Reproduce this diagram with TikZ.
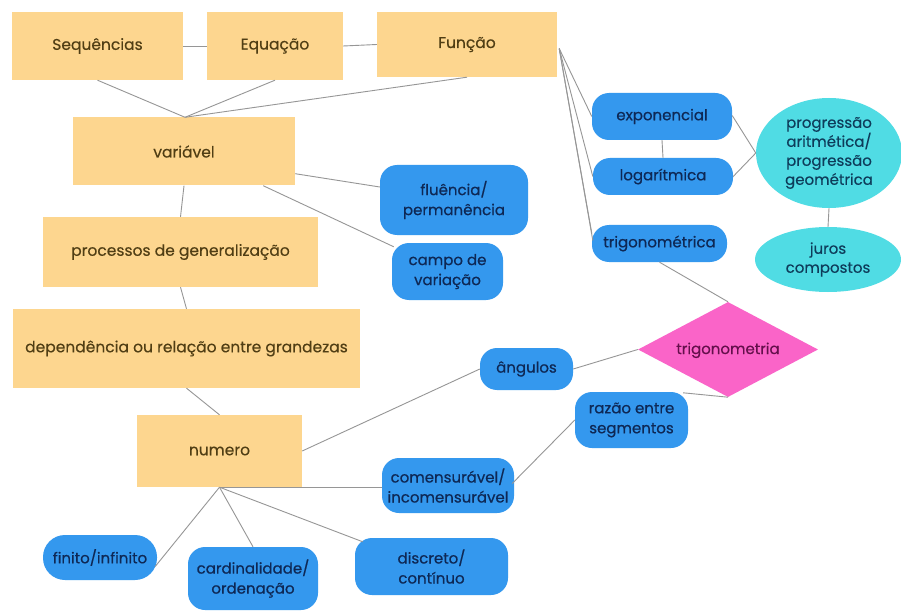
\documentclass[tikz,border=0pt]{standalone}
\usepackage{fontspec}
\setmainfont{Poppins}
\newfontfamily\medfont{Poppins}[FakeBold=0.6]
\newfontfamily\semfont{Poppins}[FakeBold=0.3]
\usetikzlibrary{shapes.geometric,calc}
\definecolor{orng}{RGB}{253,214,143}
\definecolor{brn}{RGB}{80,62,20}
\definecolor{blu}{RGB}{52,152,238}
\definecolor{navy}{RGB}{14,40,85}
\definecolor{cyn}{RGB}{80,220,228}
\definecolor{teal}{RGB}{14,60,90}
\definecolor{pnk}{RGB}{250,100,200}
\definecolor{purp}{RGB}{100,15,75}
\definecolor{lin}{RGB}{150,150,150}
\tikzset{
  ob/.style={fill=orng, draw=none, inner sep=0pt, text=brn, font=\semfont\fontsize{15.5}{18}\selectfont, align=center},
  bb/.style={fill=blu, draw=none, rounded corners=17pt, inner sep=0pt, text=navy, font=\medfont\fontsize{15}{20}\selectfont, align=center},
  cb/.style={ellipse, fill=cyn, draw=none, inner sep=0pt, text=teal, font=\semfont\fontsize{15}{19}\selectfont, align=center},
  db/.style={diamond, fill=pnk, draw=none, inner sep=0pt, text=purp, font=\semfont\fontsize{15}{18}\selectfont},
  ln/.style={draw=lin, line width=0.9pt}
}
\begin{document}
\begin{tikzpicture}[x=1pt,y=-1pt]
\fill[white] (0,0) rectangle (901,612);
\useasboundingbox (0,0) rectangle (901,612);
\clip (0,0) rectangle (901,612);
% orange boxes
\node[ob, minimum width=171pt, minimum height=68pt] (seq) at (97.5,46) {Sequências};
\node[ob, minimum width=136pt, minimum height=68pt] (equ) at (275,46) {Equação};
\node[ob, minimum width=180pt, minimum height=65pt] (fun) at (467,44.5) {Função};
\node[ob, minimum width=222pt, minimum height=68pt] (var) at (184,151.5) {variável};
\node[ob, minimum width=275pt, minimum height=70pt] (pro) at (180.5,252) {processos de generalização};
\node[ob, minimum width=347pt, minimum height=79pt] (dep) at (186.5,348.5) {dependência ou relação entre grandezas};
\node[ob, minimum width=165pt, minimum height=72pt] (num) at (219.5,451) {numero};
% blue boxes
\node[bb, minimum width=148pt, minimum height=70pt] (flu) at (454,200) {fluência/\\permanência};
\node[bb, minimum width=111pt, minimum height=57pt] (cam) at (447.5,271.5) {campo de\\variação};
\node[bb, minimum width=140pt, minimum height=47pt] (exp) at (662,116.5) {exponencial};
\node[bb, minimum width=140pt, minimum height=37pt] (log) at (663,176.5) {logarítmica};
\node[bb, minimum width=135pt, minimum height=37pt] (tri) at (659.5,243.5) {trigonométrica};
\node[bb, minimum width=93pt, minimum height=42pt] (ang) at (526.5,369) {ângulos};
\node[bb, minimum width=113pt, minimum height=56pt] (raz) at (631.5,420) {razão entre\\segmentos};
\node[bb, minimum width=132pt, minimum height=55pt] (com) at (448,485.5) {comensurável/\\incomensurável};
\node[bb, minimum width=114pt, minimum height=45pt, rounded corners=22pt] (fin) at (100,557.5) {finito/infinito};
\node[bb, minimum width=130pt, minimum height=63pt] (car) at (253,578.5) {cardinalidade/\\ordenação};
\node[bb, minimum width=153pt, minimum height=57pt] (dis) at (431.5,566.5) {discreto/\\contínuo};
% cyan ellipses
\node[cb, minimum width=146pt, minimum height=110pt] (prg) at (829,153) {progressão\\aritmética/\\progressão\\geométrica};
\node[cb, minimum width=146pt, minimum height=65pt] (jur) at (828,259.5) {juros\\compostos};
% diamond
\node[db, minimum width=180pt, minimum height=95pt] (dia) at (728,349.5) {\makebox[0pt]{\raisebox{-0.3em}[0pt][0pt]{trigonometria}}};
% connectors
\draw[ln] (seq.east) -- (equ.west);
\draw[ln] (equ.east) -- (fun.west);
\coordinate (vt) at ($(var.north)+(1,0)$);
\draw[ln] (seq.south) -- (vt);
\draw[ln] (equ.south) -- (vt);
\draw[ln] (fun.south) -- (vt);
\draw[ln] (var.south) -- (pro.north);
\draw[ln] (pro.south) -- (dep.north);
\draw[ln] (dep.south) -- (num.north);
\draw[ln] ($(var.south east)+(0,-12)$) -- ($(flu.west)+(0,-13)$);
\draw[ln] ($(var.south east)+(-32,0)$) -- ($(cam.north west)+(2,4)$);
\coordinate (fc) at ($(fun.east)+(2,4)$);
\draw[ln] (fc) -- (exp.west);
\draw[ln] (fc) -- (log.west);
\draw[ln] (fc) -- ($(tri.west)+(0,-10)$);
\draw[ln] (fc) -- ($(tri.west)+(1,-3)$);
\draw[ln] (exp.south) -- (log.north);
\draw[ln] ($(exp.east)+(0,-1)$) -- (prg.west);
\draw[ln] (log.east) -- (prg.west);
\draw[ln] (prg.south) -- (jur.north);
\draw[ln] (tri.south) -- (dia.north);
\draw[ln] (ang.east) -- (dia.west);
\draw[ln] ($(raz.north east)+(-5,1)$) -- (dia.south);
\draw[ln] ($(com.east)+(-2,-2)$) -- (raz.west);
\draw[ln] (num.east) -- (ang.west);
\draw[ln] (num.south) -- (num.south -| com.west);
\draw[ln] (num.south) -- ($(fin.east)+(-2,9)$);
\draw[ln] (num.south) -- (car.north);
\draw[ln] (num.south) -- ($(dis.north west)+(8,4)$);
\end{tikzpicture}
\end{document}
